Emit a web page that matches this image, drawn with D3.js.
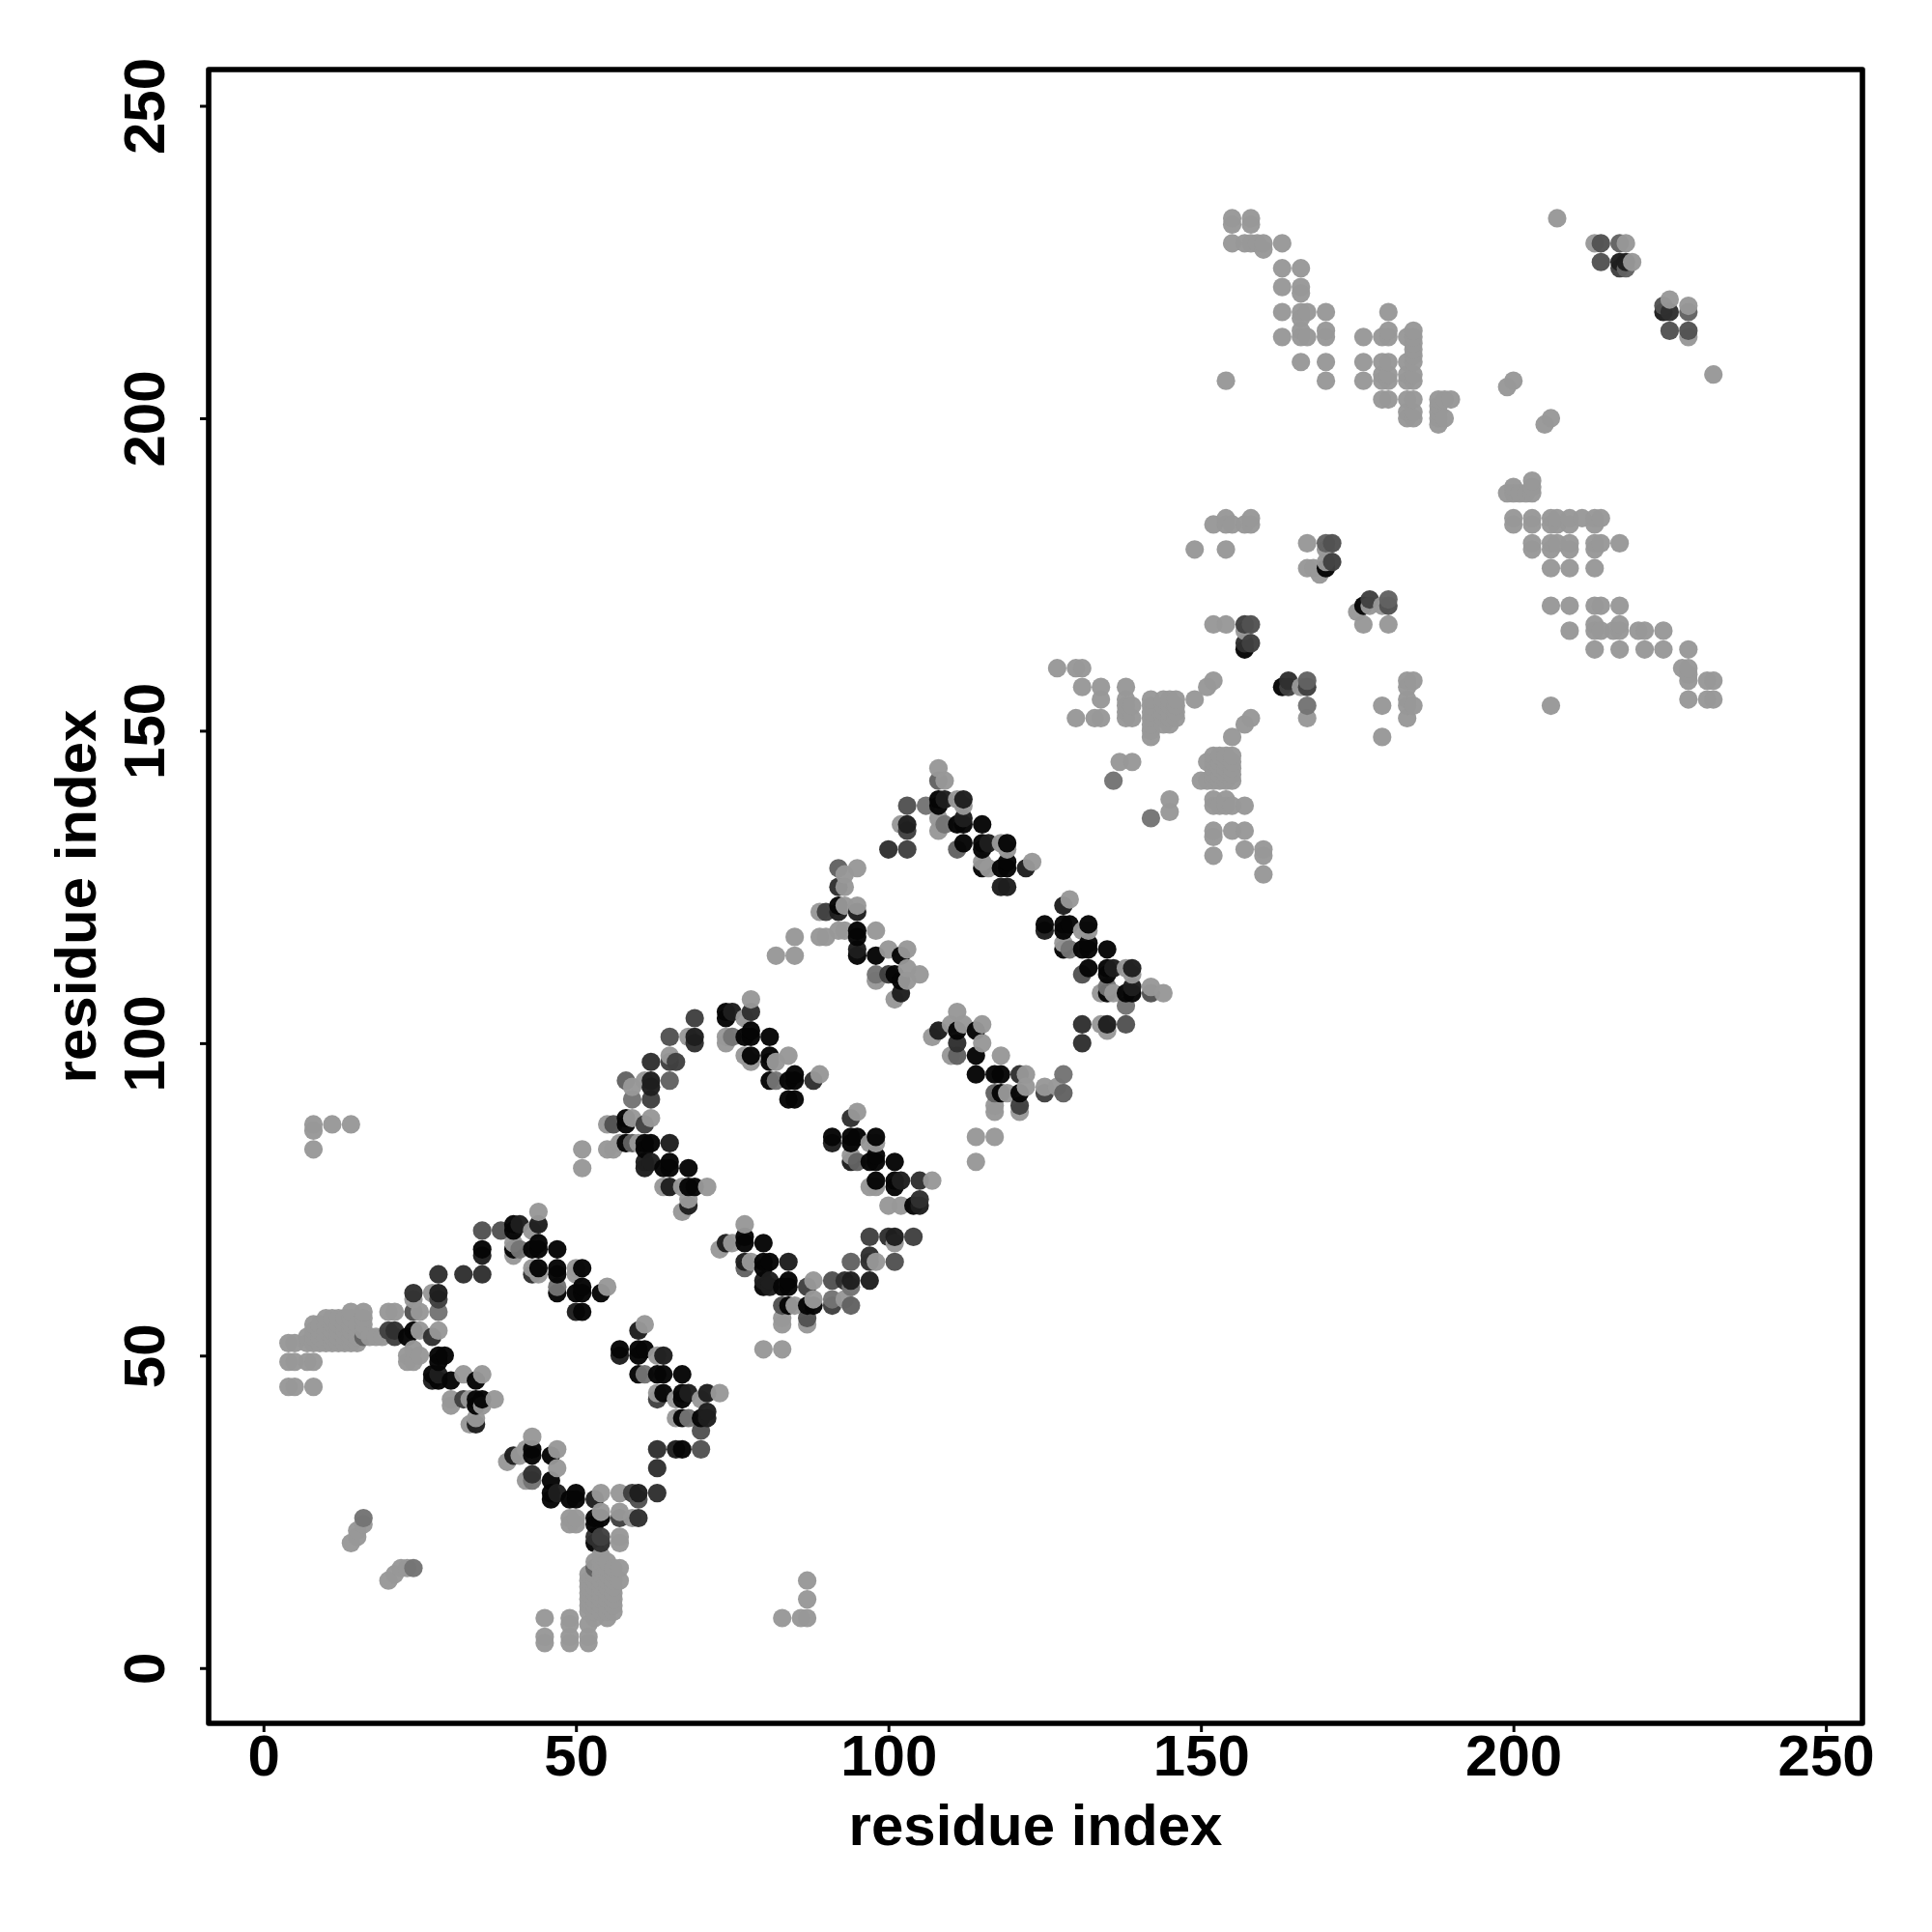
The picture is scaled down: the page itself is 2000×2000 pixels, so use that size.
<!DOCTYPE html>
<html>
<head>
<meta charset="utf-8">
<script src="https://cdn.jsdelivr.net/npm/d3@7"></script>
<style>
html,body{margin:0;padding:0;background:#fff}
svg{display:block}
text{font-family:"Liberation Sans",Arial,sans-serif;font-weight:bold;fill:#000}
</style>
</head>
<body>
<svg id="chart" width="2000" height="2000"></svg>
<script>
const tickValues = [0,50,100,150,200,250];
const xTitle = "residue index";
const yTitle = "residue index";

// contacts [residue i, residue j], grouped by tone
const tone0 = [[23,53],[24,54],[28,50],[29,50],[28,49],[27,47],[28,46],[30,46],[34,46],[34,43],[35,43],[34,42],[35,67],[40,71],[40,70],[40,67],[43,67],[44,67],[44,68],[47,67],[44,64],[47,64],[47,63],[47,60],[51,64],[51,61],[50,60],[51,60],[54,60],[51,57],
[43,35],[43,34],[46,34],[46,30],[46,28],[46,27],[50,28],[50,27],[49,27],[53,24],[53,23],[54,24],[53,20],
[57,51],[60,51],[61,51],[60,50],[60,47],[63,47],[64,47],[67,47],[64,44],[67,44],[67,43],[67,40],[70,40],[67,35],
[58,87],[58,88],[58,84],[61,84],[62,84],[61,83],[65,81],[65,80],[64,80],[68,80],[68,77],[69,77],
[74,105],[74,104],[77,101],[78,102],[78,101],[81,101],[78,98],[81,98],[81,97],[81,94],[84,94],[85,95],[85,94],[84,91],[85,91],
[91,85],[94,85],[95,85],[94,84],[98,85],[97,81],[98,82],[98,81],[101,81],[98,78],[101,78],[101,77],[104,74],
[77,69],[77,68],[80,68],[80,65],[81,65],[80,64],[80,61],[84,62],[84,61],[83,61],[84,58],[87,58],[88,58],
[92,122],[95,118],[95,117],[95,114],[98,114],[101,111],[102,114],[102,110],
[108,139],[108,138],[111,135],[112,135],[115,135],[112,132],[115,132],[115,131],[119,132],[115,128],[118,128],[119,129],[119,128],
[125,119],[128,119],[129,119],[128,118],[132,119],[128,115],[131,115],[132,116],[132,115],[135,115],[132,112],[135,112],[135,111],[135,108],[138,108],[139,108],
[111,102],[114,102],[114,98],[114,95],[117,95],[118,95],[118,92],[121,92],
[157,163],[170,176],[176,170],[163,157]];

const tone1 = [[28,60],[35,66],[41,71],[44,71],[47,28],[53,27],[60,28],[64,50],[60,54],[57,50],[27,46],[28,47],[34,39],[40,34],[68,44],[71,44],[71,41],[71,40],[66,35],[50,57],
[62,94],[62,93],[69,101],[65,84],[61,81],[61,80],[62,81],[65,77],[68,74],[75,105],[91,84],[94,81],[102,78],[105,74],[74,68],[77,65],[84,65],[80,62],[81,62],[81,61],[94,62],[97,62],[101,69],
[92,121],[95,121],[95,115],[102,108],[109,139],[103,135],[112,139],[112,136],[116,132],[122,128],[118,125],[119,125],[125,118],[128,122],[136,112],[139,112],[139,109],[135,103],[108,102],[217,225],[218,225],[224,217]];

const tone2 = [[24,60],[28,63],[32,63],[35,63],[21,54],[27,53],[43,63],[43,31],[54,20],[53,21],[60,24],[63,35],[63,32],[63,28],
[62,97],[69,100],[78,105],[88,94],[94,88],[105,78],[105,75],[100,131],[131,103],[131,100],[92,125],[97,66],[97,65],[100,69],[93,62],[111,100],[121,95],[225,217],[157,164],[164,158]];

const tone3 = [[20,54],[28,59],[21,53],[63,43],[32,43],[57,24],[54,21],[59,28],[61,87],[62,91],[69,104],[66,97],[65,97],[97,69],[104,69],[87,61],[90,121],[103,134],[103,131],[100,111],[125,92],[121,90],[91,58],[157,167],[158,164],[171,177],[177,171],[164,157],[167,157],[217,224]];

const tone4 = [[35,70],[38,70],[24,57],[60,27],[70,38],[70,35],[56,87],[65,101],[83,58],[87,56],[91,62],[101,65],[103,138],[131,111],[138,103],[142,108],[158,167],[171,180],[180,170],[214,228],[214,225],[224,218],[225,214],[228,214]];

const tone5 = [[58,94],[65,94],[59,84],[95,81],[77,64],[94,65],[94,58],[108,142],[111,131],[117,92],[128,92],[92,128],[111,98],[170,180],[180,171],[167,158],[217,228],[218,224],[228,217],[53,16],[16,53]];

const tone6 = [[28,57],[41,67],[47,61],[61,47],[68,40],[16,24],[24,16],[43,30],[59,91],[82,94],[75,101],[98,111],[91,59],[94,61],[106,138],[109,135],[128,95],[129,115],[135,109],[138,106],[136,142],[142,136],[167,154]];

const toneLight = [
[8,87],[8,86],[8,83],[11,87],[14,87],[83,8],[86,8],[87,8],[87,11],[87,14],
[4,45],[5,45],[8,45],[4,49],[5,49],[7,49],[8,49],[4,52],[5,52],
[7,52],[8,52],[9,52],[10,52],[11,52],[12,52],[13,52],[14,52],[15,52],
[7,53],[8,53],[9,53],[10,53],[11,53],[12,53],[13,53],[14,53],[15,53],[17,53],[18,53],[19,53],
[8,54],[9,54],[10,54],[11,54],[12,54],[13,54],[14,54],[15,54],[16,54],
[8,55],[9,55],[10,55],[11,55],[12,55],[13,55],[14,55],[15,55],[16,55],
[10,56],[11,56],[12,56],[13,56],[14,56],[16,56],[14,57],[16,57],
[20,57],[21,57],[25,54],[25,57],[24,51],[23,50],[25,50],[23,49],[24,49],[28,54],[32,47],[35,47],[30,43],[30,42],[33,43],[37,43],[35,42],[34,40],[33,39],[24,59],[27,60],
[44,73],[43,70],[40,68],[40,66],[43,64],[44,63],[50,64],[50,63],[55,61],
[39,33],[41,34],[43,37],[42,35],[42,30],[47,35],[47,32],[54,28],[57,28],[49,24],[49,23],[50,24],[50,23],[54,25],[57,25],[59,24],[57,21],[57,20],
[16,23],[15,22],[15,21],[14,20],[23,16],[22,16],[21,15],[20,14],
[45,8],[45,5],[45,4],[49,8],[49,7],[49,5],[49,4],[52,5],[52,4],[52,7],[53,8],[55,8],
[52,9],[52,10],[52,11],[52,12],[52,13],[52,14],[52,15],
[53,9],[53,10],[53,11],[53,12],[53,13],[53,14],[53,15],[53,17],
[54,9],[54,10],[54,11],[54,12],[54,13],[54,14],[54,15],[54,16],[54,17],[54,18],
[55,9],[55,10],[55,11],[55,12],[55,13],[55,14],[55,15],[55,16],[55,17],
[56,9],[56,10],[56,11],[56,12],[56,13],[56,14],[56,15],[56,16],[57,14],[57,16],
[61,55],[63,50],[63,44],[66,43],[70,43],[73,44],[66,40],
[51,83],[51,80],[55,83],[56,83],[55,87],[59,88],[59,93],[61,94],[57,84],[60,84],[62,88],[65,98],[68,101],
[64,77],[67,77],[71,77],[68,75],[67,73],
[78,107],[77,104],[74,101],[74,100],[78,97],[77,98],[84,98],[89,95],[82,97],
[95,89],[97,84],[94,82],[98,84],[97,77],[98,77],[107,78],[100,74],[102,74],
[77,71],[73,67],[75,68],[78,65],[85,58],[88,62],[88,59],[87,55],[83,56],[83,55],[80,51],[83,51],[93,59],[98,65],[101,68],
[95,128],[93,127],[93,125],[89,121],[93,122],[95,122],[89,117],[90,117],[92,118],[93,118],[98,118],[100,115],[103,115],[98,110],[103,112],[103,110],[105,111],[101,107],[85,117],[85,114],[82,114],
[108,144],[109,142],[102,135],[108,136],[108,134],[111,139],[112,138],[118,132],[119,131],[115,129],[116,128],[123,129],
[129,123],[131,118],[132,118],[128,116],[139,111],[134,108],[136,108],[142,109],[144,108],[134,103],[135,102],[138,112],
[111,105],[112,103],[115,103],[107,101],[110,103],[110,98],[115,100],[118,98],[122,95],[119,92],[122,93],[121,89],[117,90],[117,89],[125,93],[127,93],[114,85],[117,85],[114,81],
[127,160],[130,160],[131,160],[131,157],[134,157],[134,155],[138,157],[138,155],[138,154],[138,153],[138,152],[139,154],[139,152],[130,152],[133,152],[134,152],
[142,155],[142,154],[142,153],[142,152],[142,151],[142,150],[142,149],
[144,155],[144,154],[144,153],[144,152],[144,151],[145,155],[145,154],[145,153],[145,152],[145,151],[146,155],[146,154],[146,153],[146,152],
[149,155],[151,157],[152,158],[158,152],[157,151],[155,149],[137,145],[139,145],[145,139],[145,137],
[152,146],[153,146],[154,146],[155,146],[151,145],[152,145],[153,145],[154,145],[155,145],[152,144],[153,144],[154,144],[155,144],
[152,143],[153,143],[154,143],[155,143],[150,142],[151,142],[152,142],[153,142],[154,142],[155,142],
[152,139],[154,139],[152,138],[153,138],[154,138],[155,138],[157,138],[152,134],[152,133],[155,134],[157,134],[152,130],[157,131],[160,131],[160,130],[160,127],
[152,183],[154,184],[154,183],[155,183],[157,183],[158,184],[158,183],[149,179],[154,179],[152,167],[154,167],[157,166],
[167,180],[170,179],[170,177],[167,176],[168,176],[169,175],[175,169],[176,167],[177,170],[179,170],[180,167],[166,157],[167,152],
[179,154],[179,149],[183,158],[184,158],[183,157],[183,155],[183,154],[184,154],[183,152],
[155,232],[155,231],[158,232],[158,231],[155,228],[157,228],[158,228],[159,228],[160,228],[160,227],[163,228],
[163,224],[166,224],[163,221],[166,221],[166,220],[163,217],[166,217],[167,217],[170,217],[166,216],[163,213],[166,213],[167,213],[166,214],[170,214],[170,213],[166,209],[170,209],[170,206],[154,206],
[180,217],[176,213],[179,213],[180,213],[180,214],[183,213],[184,213],[184,214],[184,212],[184,211],[176,209],[179,209],[180,209],[183,209],[184,209],[184,210],[176,206],[179,206],[180,206],[179,207],[180,207],[183,206],[184,206],[183,207],[184,207],[179,203],[180,203],[183,203],[184,203],[183,200],[184,200],[183,201],[184,201],[188,203],[189,203],[190,203],[188,202],[188,201],[188,200],[189,200],[188,199],
[200,206],[199,205],[206,200],[205,199],[207,232],[213,228],[218,228],[219,225],[225,219],[228,218],[228,213],[232,207],
[199,188],[200,189],[200,188],[201,188],[202,188],[203,188],[203,189],[203,190],
[200,184],[200,183],[203,184],[203,183],[206,184],[207,184],[206,183],[207,183],[209,184],[209,183],[211,184],[213,184],[214,184],[213,183],
[203,180],[203,179],[206,180],[206,179],[207,180],[209,180],[209,179],[213,180],[214,180],[213,179],[217,180],
[206,176],[209,176],[213,176],[206,170],[209,170],[213,170],[214,170],[217,170],
[209,166],[213,167],[213,166],[214,166],[216,166],[217,167],[217,166],[220,166],[221,166],[224,166],
[213,163],[217,163],[221,163],[224,163],[228,163],[227,160],[228,160],[228,159],[228,158],[231,158],[232,158],[228,155],[231,155],[232,155],[206,154]];

const toneColours = ["#050505","#1e1e1e","#2f2f2f","#404040","#525252","#626262","#747474","#989898"];
const toneGroups = [tone0,tone1,tone2,tone3,tone4,tone5,tone6,toneLight];

const frame = {left:216, right:1928, top:72, bottom:1784};
const x = d3.scaleLinear().domain([-8.77,255.85]).range([frame.left,frame.right]);
const y = d3.scaleLinear().domain([-8.85,255.8]).range([frame.bottom,frame.top]);

const svg = d3.select("#chart");
svg.append("rect").attr("width",2000).attr("height",2000).attr("fill","#fff");

const contacts = toneGroups.flatMap((g,t)=>g.map(p=>({i:p[0],j:p[1],t})))
  .sort((a,b)=>d3.ascending(a.i,b.i)||d3.ascending(a.j,b.j));

svg.append("g").selectAll("circle").data(contacts).join("circle")
  .attr("cx",d=>x(d.i)).attr("cy",d=>y(d.j)).attr("r",9.6)
  .attr("fill",d=>toneColours[d.t]).attr("fill-opacity",0.97);

const gx = svg.append("g").attr("transform",`translate(0,${frame.bottom})`)
  .call(d3.axisBottom(x).tickValues(tickValues).tickFormat(d3.format("d")).tickSizeOuter(0).tickSize(9));
const gy = svg.append("g").attr("transform",`translate(${frame.left},0)`)
  .call(d3.axisLeft(y).tickValues(tickValues).tickFormat(d3.format("d")).tickSizeOuter(0).tickSize(9));
gx.select(".domain").remove(); gy.select(".domain").remove();
svg.selectAll(".tick line").attr("stroke","#000").attr("stroke-width",3);
gx.selectAll("text").attr("y",0).attr("dy",0).attr("transform","translate(0,54)")
  .attr("text-anchor","middle").style("font-size","60px");
gy.selectAll("text").attr("x",0).attr("dy",0).attr("transform","translate(-46,0) rotate(-90)")
  .attr("text-anchor","middle").style("font-size","60px");

svg.append("rect").attr("x",frame.left).attr("y",frame.top)
  .attr("width",frame.right-frame.left).attr("height",frame.bottom-frame.top)
  .attr("fill","none").attr("stroke","#000").attr("stroke-width",5.6).attr("stroke-linejoin","round");

svg.append("text").attr("x",(frame.left+frame.right)/2).attr("y",1910)
  .attr("text-anchor","middle").style("font-size","60px").text(xTitle);
svg.append("text").attr("transform",`translate(99,${(frame.top+frame.bottom)/2}) rotate(-90)`)
  .attr("text-anchor","middle").style("font-size","60px").text(yTitle);
</script>
</body>
</html>
